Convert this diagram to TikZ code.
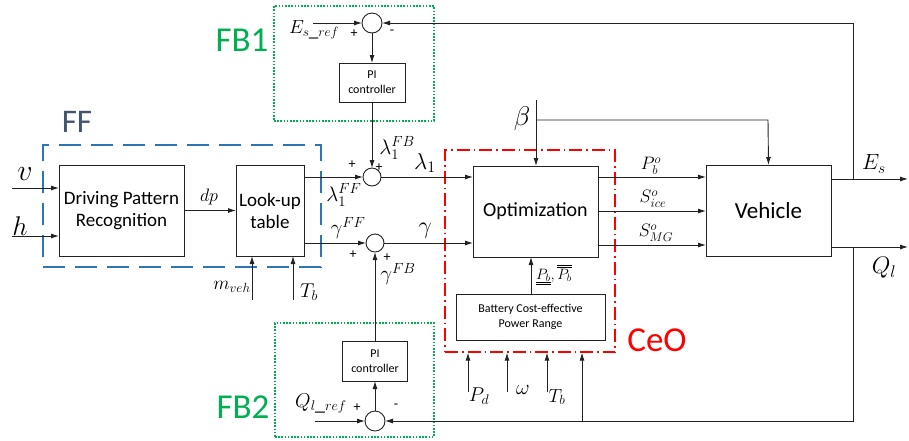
\RequirePackage{fix-cm}
\documentclass[tikz,border=0pt]{standalone}
\usepackage{fontspec}
\setmainfont{Carlito}
\usetikzlibrary{arrows.meta}
\definecolor{fbgreen}{HTML}{00B050}
\definecolor{ffblue}{HTML}{2E75B6}
\definecolor{fftext}{HTML}{44546A}
\definecolor{ln}{HTML}{222222}
\newcommand{\fsz}[1]{\fontsize{#1}{#1}\selectfont}
\tikzset{
  blk/.style={draw=ln, line width=0.9pt, rectangle, inner sep=0pt, outer sep=0pt, align=center},
  sumc/.style={draw=ln, line width=0.9pt, circle, minimum size=19pt, inner sep=0pt, outer sep=0pt},
  arr/.style={draw=ln, line width=0.9pt, -{Latex[length=8pt,width=5pt]}},
  ffbox/.style={draw=ffblue, line width=1.6pt, dash pattern=on 22pt off 10pt, rectangle, inner sep=0pt},
  fbbox/.style={draw=fbgreen, line width=1.4pt, dash pattern=on 1.6pt off 1.6pt, rectangle, inner sep=0pt},
  ceobox/.style={draw=red, line width=1.3pt, dash pattern=on 13pt off 4pt on 1.5pt off 4pt, rectangle, inner sep=0pt},
  mlab/.style={font=\fsz{20}, inner sep=0pt},
  slab/.style={font=\fsz{14}, inner sep=0pt},
  grp/.style={font=\fsz{35}, inner sep=0pt}
}
\begin{document}
\begin{tikzpicture}[x=1pt,y=-1pt]
\useasboundingbox (0,0) rectangle (909,440);
% group boxes
\node[ffbox, minimum width=278, minimum height=122] (ff) at (182,206) {};
\node[fbbox, minimum width=160, minimum height=115] (fb1) at (354,63.5) {};
\node[fbbox, minimum width=159, minimum height=114] (fb2) at (354.5,380) {};
\node[ceobox, minimum width=170, minimum height=202] (ceo) at (530,251) {};
% group labels
\node[grp, text=fbgreen] (fb1lab) at (242,40) {FB1};
\node[grp, text=fbgreen] (fb2lab) at (243,407) {FB2};
\node[grp, text=fftext, font=\fsz{33}] (fflab) at (77,122) {FF};
\node[grp, text=red] (ceolab) at (657,340) {CeO};
% blocks
\node[blk, minimum width=125, minimum height=91, font=\fontsize{19}{22}\selectfont] (dpr) at (121.5,210.5) {Driving Pattern\\Recognition};
\node[blk, minimum width=68, minimum height=91, font=\fontsize{19}{22}\selectfont] (lut) at (270,210.5) {Look-up\\table};
\node[blk, minimum width=125, minimum height=91, font=\fsz{20}] (opt) at (535.5,211.5) {Optimization};
\node[blk, minimum width=125, minimum height=91, font=\fsz{23}] (veh) at (768.5,210.5) {Vehicle};
\node[blk, minimum width=149, minimum height=46, font=\fontsize{12}{15}\selectfont] (bat) at (530.5,317) {Battery Cost-effective\\Power Range};
\node[blk, minimum width=66, minimum height=39, font=\fontsize{12}{15}\selectfont] (pi1) at (372,82.5) {PI\\controller};
\node[blk, minimum width=65, minimum height=40, font=\fontsize{12}{15}\selectfont] (pi2) at (375,361) {PI\\controller};
% summing junctions
\node[sumc, minimum size=20pt] (s1) at (372,23) {};
\node[sumc, minimum size=18pt] (sl) at (372,177) {};
\node[sumc, minimum size=18pt] (sg) at (375,243) {};
\node[sumc, minimum size=20pt] (s2) at (375,421) {};
% free ends
\coordinate (vin) at (12,188);
\coordinate (hin) at (12,236);
\coordinate (mv) at (252,300);
\coordinate (tb1) at (293,300);
\coordinate (esref) at (313,23);
\coordinate (qlref) at (315,421);
\coordinate (btop) at (536,100);
\coordinate (bj) at (536,120);
\coordinate (bc) at (768,120);
\coordinate (esout) at (908,179);
\coordinate (qlout) at (908,247);
\coordinate (fbx1) at (853,179);
\coordinate (fbx1t) at (853,23);
\coordinate (fbx2) at (853,247);
\coordinate (fbx2b) at (853,421);
\coordinate (cb) at (582,421);
\coordinate (pd) at (468,392);
\coordinate (om) at (507,392);
\coordinate (tb2) at (547,392);
\coordinate (batx) at (531,0);
\coordinate (ya) at (0,177);
\coordinate (yb) at (0,211);
\coordinate (yc) at (0,245);
% FF part
\draw[arr] (vin) -- (vin -| dpr.west);
\draw[arr] (hin) -- (hin -| dpr.west);
\draw[arr] (dpr.east) -- (lut.west);
\draw[arr] (mv) -- (mv |- lut.south);
\draw[arr] (tb1) -- (tb1 |- lut.south);
\draw[arr] (lut.east |- sl) -- (sl.west);
\draw[arr] (lut.east |- sg) -- (sg.west);
% FB1
\draw[arr] (esref) -- (s1.west);
\draw[arr] (s1.south) -- (pi1.north);
\draw[arr] (pi1.south) -- (sl.north);
% FB2
\draw[arr] (qlref) -- (s2.west);
\draw[arr] (s2.north) -- (pi2.south);
\draw[arr] (pi2.north) -- (sg.south);
% to optimization
\draw[arr] (sl.east) -- (sl -| opt.west);
\draw[arr] (sg.east) -- (sg -| opt.west);
\draw[arr] (btop) -- (btop |- opt.north);
\draw[arr] (bj) -- (bc) -- (veh.north);
\draw[arr] (bat.north -| batx) -- (batx |- opt.south);
% optimization to vehicle
\draw[arr] (opt.east |- ya) -- (veh.west |- ya);
\draw[arr] (opt.east |- yb) -- (veh.west |- yb);
\draw[arr] (opt.east |- yc) -- (veh.west |- yc);
% vehicle outputs
\draw[arr] (veh.east |- esout) -- (esout);
\draw[arr] (veh.east |- qlout) -- (qlout);
\draw[arr] (fbx1) -- (fbx1t) -- (s1.east);
\draw[arr] (fbx2) -- (fbx2b) -- (s2.east);
\draw[arr] (cb) -- (cb |- ceo.south);
% CeO inputs
\draw[arr] (pd) -- (pd |- ceo.south);
\draw[arr] (om) -- (om |- ceo.south);
\draw[arr] (tb2) -- (tb2 |- ceo.south);
% signs
\node[slab] (p1) at (354,34) {+};
\node[slab] (m1) at (392,32) {-};
\node[slab] (p2) at (357,408) {+};
\node[slab] (m2) at (396,406) {-};
\node[slab] (p3) at (352,165) {+};
\node[slab] (p4) at (379,168) {+};
\node[slab] (p5) at (353,255) {+};
\node[slab] (p6) at (387,258) {+};
% math labels
\node[mlab, font=\fsz{30}] (vl) at (25,174) {$v$};
\node[mlab, font=\fsz{27}] (hl) at (20,226) {$h$};
\node[mlab, font=\fsz{18}] (dpl) at (209,197) {$dp$};
\node[mlab, font=\fsz{19}] (mvl) at (232,287) {$m_{veh}$};
\node[mlab, font=\fsz{20}] (tb1l) at (309,292) {$T_b$};
\node[mlab, font=\fsz{19}] (esrefl) at (314,30) {$E_{s\_ref}$};
\node[mlab, font=\fsz{20}] (qlrefl) at (321,404) {$Q_{l\_ref}$};
\node[mlab, font=\fsz{21}] (lfbl) at (397,148) {$\lambda_1^{FB}$};
\node[mlab, font=\fsz{21}] (lffl) at (344,195) {$\lambda_1^{FF}$};
\node[mlab, font=\fsz{23}] (ll) at (425,163) {$\lambda_1$};
\node[mlab, font=\fsz{21}] (gffl) at (348,228) {$\gamma^{FF}$};
\node[mlab, font=\fsz{21}] (gfbl) at (398,274) {$\gamma^{FB}$};
\node[mlab, font=\fsz{24}] (gl) at (425,231) {$\gamma$};
\node[mlab, font=\fsz{27}] (bl) at (522,119) {$\beta$};
\node[mlab, font=\fsz{18}] (pbo) at (651,166) {$P_b^o$};
\node[mlab, font=\fsz{18}] (sice) at (653,199) {$S_{ice}^o$};
\node[mlab, font=\fsz{18}] (smg) at (656,233) {$S_{MG}^o$};
\node[mlab, font=\fsz{15}] (pbr) at (554,275) {$\underline{\underline{P_b}},\overline{\overline{P_b}}$};
\node[mlab, font=\fsz{22}] (esl) at (874,164) {$E_s$};
\node[mlab, font=\fsz{24}] (qll) at (884,268) {$Q_l$};
\node[mlab, font=\fsz{20}] (pdl) at (479,396) {$P_d$};
\node[mlab, font=\fsz{21}] (oml) at (523,390) {$\omega$};
\node[mlab, font=\fsz{19}] (tb2l) at (557,397) {$T_b$};
\end{tikzpicture}
\end{document}
